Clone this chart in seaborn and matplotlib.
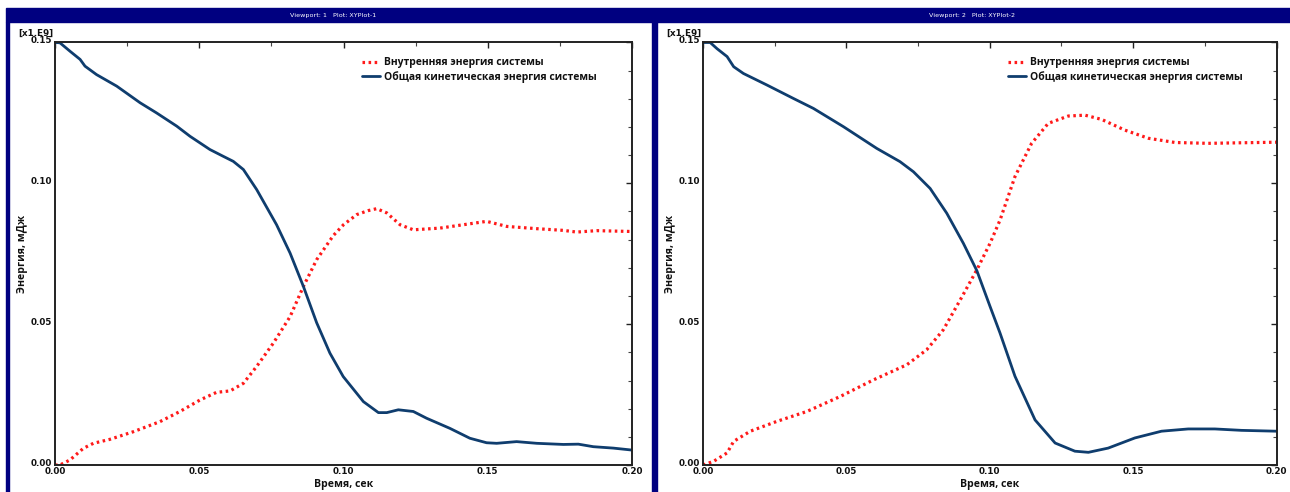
import numpy as np
import pandas as pd
import matplotlib
matplotlib.use("Agg")
import matplotlib.pyplot as plt
from matplotlib.patches import Rectangle
from matplotlib.ticker import MultipleLocator, FormatStrFormatter
import matplotlib.transforms as mtransforms
import seaborn as sns

# ---------------- data (values in units of 1e9) ----------------
left_int_t = [0, 0.0017, 0.0052, 0.0098, 0.0133, 0.019, 0.0271, 0.0364, 0.0433, 0.0503,
              0.056, 0.0607, 0.0653, 0.0699, 0.0757, 0.0815, 0.0861, 0.0907, 0.0965, 0.1,
              0.1046, 0.1085, 0.1115, 0.115, 0.1196, 0.1242, 0.1334, 0.1415, 0.1496, 0.1566,
              0.167, 0.1762, 0.1808, 0.1878, 0.2]
left_int_v = [0, 0, 0.0018, 0.0059, 0.0077, 0.0091, 0.0118, 0.0154, 0.019, 0.0231,
              0.0258, 0.0263, 0.029, 0.035, 0.0433, 0.0527, 0.0634, 0.0729, 0.0815, 0.0853,
              0.0889, 0.0903, 0.091, 0.0895, 0.0853, 0.0835, 0.0841, 0.0853, 0.0865, 0.0847,
              0.0839, 0.0833, 0.0827, 0.0832, 0.0829]

left_kin_t = [0, 0.0017, 0.0052, 0.0087, 0.0104, 0.0144, 0.0214, 0.0295, 0.0352, 0.0422,
              0.0468, 0.0537, 0.0583, 0.0618, 0.0653, 0.0699, 0.0768, 0.0815, 0.0861, 0.0907,
              0.0953, 0.0999, 0.1069, 0.1121, 0.115, 0.119, 0.1242, 0.1288, 0.1369, 0.1438,
              0.1496, 0.1531, 0.16, 0.167, 0.1762, 0.1814, 0.1866, 0.1935, 0.2]
left_kin_v = [0.15, 0.1499, 0.1469, 0.144, 0.1416, 0.1386, 0.1345, 0.1286, 0.125, 0.1203,
              0.1167, 0.112, 0.1096, 0.1078, 0.1049, 0.0978, 0.0853, 0.0752, 0.0634, 0.0505,
              0.0397, 0.0314, 0.0225, 0.0186, 0.0186, 0.0196, 0.019, 0.0166, 0.013, 0.0095,
              0.0079, 0.0077, 0.0083, 0.0077, 0.0073, 0.0074, 0.0065, 0.006, 0.0053]

right_int_t = [0, 0.0037, 0.0084, 0.0107, 0.0165, 0.0258, 0.0362, 0.0478, 0.0594, 0.0711,
               0.078, 0.0838, 0.0897, 0.0955, 0.1001, 0.1036, 0.1088, 0.1146, 0.1204, 0.1274,
               0.1332, 0.139, 0.1471, 0.1553, 0.1646, 0.1762, 0.1878, 0.2]
right_int_v = [0, 0.0013, 0.0043, 0.0084, 0.012, 0.0155, 0.019, 0.0243, 0.0302, 0.0356,
               0.0409, 0.048, 0.0586, 0.0693, 0.0787, 0.087, 0.1024, 0.1142, 0.1213, 0.1239,
               0.1242, 0.1227, 0.1189, 0.116, 0.1145, 0.1142, 0.1144, 0.1146]

right_kin_t = [0, 0.0025, 0.0049, 0.0084, 0.0107, 0.0141, 0.0223, 0.0316, 0.0385, 0.049,
               0.0606, 0.0687, 0.0734, 0.0792, 0.085, 0.0908, 0.0955, 0.1001, 0.1036, 0.1088,
               0.1158, 0.1228, 0.1297, 0.1344, 0.1413, 0.1506, 0.1599, 0.1692, 0.1785, 0.1878, 0.2]
right_kin_v = [0.15, 0.15, 0.1478, 0.145, 0.1414, 0.139, 0.1349, 0.1301, 0.1266, 0.1201,
               0.1124, 0.1077, 0.1041, 0.0982, 0.0894, 0.0787, 0.069, 0.0563, 0.0468, 0.0315,
               0.016, 0.0078, 0.0049, 0.0045, 0.006, 0.0096, 0.012, 0.0128, 0.0128, 0.0123, 0.012]

label_int = "Внутренняя энергия системы"
label_kin = "Общая кинетическая энергия системы"
x_label = "Время, сек"
y_label = "Энергия, мДж"
scale_text = "[x1.E9]"
titles = ["Viewport: 1   Plot: XYPlot-1", "Viewport: 2   Plot: XYPlot-2"]

# ---------------- style ----------------
sns.set_theme(style="white")
plt.rcParams['font.family'] = ['DejaVu Sans']

W, H = 1290, 492
fig = plt.figure(figsize=(W / 100, H / 100), dpi=100)
fig.patch.set_facecolor("white")

def fx(px):
    return px / W

def fy(py):
    return 1 - py / H

NAVY = "#000080"
BLUE = "#0f3d6e"
RED = "#ff1a1a"
TEXT_FAM = ["Open Sans", "DejaVu Sans"]

# frame decorations
fig.add_artist(Rectangle((fx(6), fy(22)), fx(1290 - 6), (22 - 8) / H,
                         transform=fig.transFigure, color=NAVY, zorder=0))
fig.add_artist(Rectangle((fx(6), 0), fx(3), fy(22),
                         transform=fig.transFigure, color=NAVY, zorder=0))
fig.add_artist(Rectangle((fx(651.5), 0), fx(5.5), fy(22),
                         transform=fig.transFigure, color=NAVY, zorder=0))

panels = [
    dict(ax_px=(55, 632), title_x=333, data=(left_int_t, left_int_v, left_kin_t, left_kin_v)),
    dict(ax_px=(703, 1276.5), title_x=972, data=(right_int_t, right_int_v, right_kin_t, right_kin_v)),
]

top_px, bot_px = 42.5, 465
ylab_shift = mtransforms.ScaledTranslation(0, 2.5 / 100, fig.dpi_scale_trans)

for i, p in enumerate(panels):
    x0, x1 = p["ax_px"]
    ax = fig.add_axes([fx(x0), fy(bot_px), (x1 - x0) / W, (bot_px - top_px) / H])
    it, iv, kt, kv = p["data"]
    df_int = pd.DataFrame({"t": it, "v": iv})
    df_kin = pd.DataFrame({"t": kt, "v": kv})
    sns.lineplot(data=df_int, x="t", y="v", ax=ax, color=RED, lw=2.3,
                 linestyle=(0, (0.8, 1.1)), label=label_int)
    sns.lineplot(data=df_kin, x="t", y="v", ax=ax, color=BLUE, lw=2.0,
                 label=label_kin)
    ax.set_xlim(0, 0.2)
    ax.set_ylim(0, 0.15)
    ax.xaxis.set_major_locator(MultipleLocator(0.05))
    ax.xaxis.set_minor_locator(MultipleLocator(0.025))
    ax.yaxis.set_major_locator(MultipleLocator(0.05))
    ax.yaxis.set_minor_locator(MultipleLocator(0.01))
    ax.xaxis.set_major_formatter(FormatStrFormatter("%.2f"))
    ax.yaxis.set_major_formatter(FormatStrFormatter("%.2f"))
    ax.tick_params(which="major", direction="in", length=4, width=1.0, color="#222222",
                   top=True, right=True, labelsize=6.3, pad=2)
    ax.tick_params(which="minor", direction="in", length=3, width=0.8, color="#444444",
                   top=True, right=True)
    ax.tick_params(axis="x", which="major", pad=1.5)
    for lab in ax.get_xticklabels() + ax.get_yticklabels():
        lab.set_fontweight("bold")
        lab.set_color("#111111")
    for lab in ax.get_yticklabels():
        lab.set_transform(lab.get_transform() + ylab_shift)
    for s in ax.spines.values():
        s.set_visible(True)
        s.set_color("#222222")
        s.set_linewidth(1.4)
    ax.set_xlabel(x_label, fontsize=7.6, fontweight="bold", family=TEXT_FAM, color="#111111")
    ax.set_ylabel(y_label, fontsize=7.6, fontweight="bold", family=TEXT_FAM, color="#111111")
    ax.xaxis.set_label_coords(0.5, -0.034)
    ax.yaxis.set_label_coords(-0.047, 0.5)
    ax.text(-0.003, 1.0 + 5 / 422, scale_text, transform=ax.transAxes, ha="right", va="bottom",
            fontsize=6.3, fontweight="bold", color="#111111")
    leg = ax.legend(loc="upper left", bbox_to_anchor=(0.532, 0.965), frameon=False,
                    borderpad=0, borderaxespad=0, handlelength=1.75, handletextpad=0.35,
                    labelspacing=0.25,
                    prop=dict(family=TEXT_FAM, weight="bold", size=7.5))
    for t in leg.get_texts():
        t.set_color("#111111")
    fig.text(fx(p["title_x"]), fy(15.2), titles[i], ha="center", va="center",
             fontsize=4.6, color="white")

fig.savefig("out.png", dpi=100, facecolor="white")
